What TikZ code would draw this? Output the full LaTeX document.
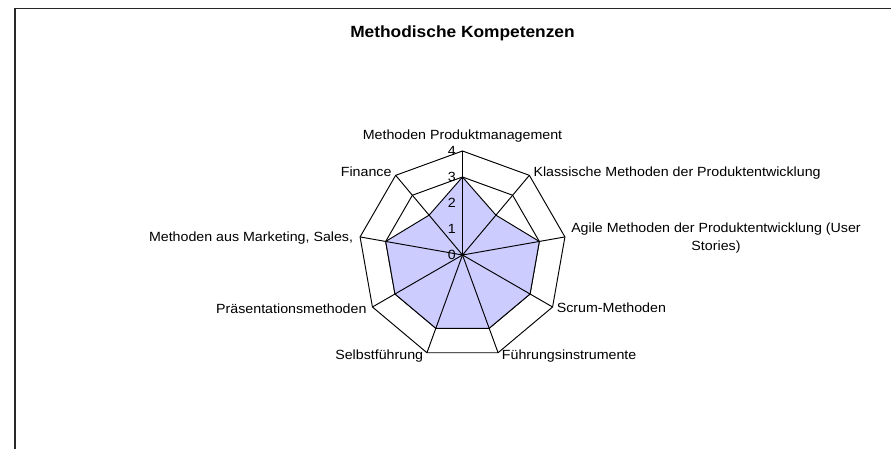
\documentclass[tikz,border=0pt]{standalone}
\usepackage{fontspec}
\setmainfont{Liberation Sans}[FakeStretch=1.07]
\definecolor{serfill}{RGB}{204,204,255}
\definecolor{framec}{RGB}{40,40,40}
\begin{document}
\begin{tikzpicture}[x=1pt,y=1pt,
  gridline/.style={line width=0.95pt, black},
  axisline/.style={line width=0.95pt, black},
  series/.style={line width=0.95pt, black, fill=serfill},
  lbl/.style={inner sep=0pt, font=\fontsize{13.3}{18}\selectfont},
  tick/.style={inner sep=0pt, anchor=east, font=\fontsize{13.3}{15}\selectfont},
  titlestyle/.style={inner sep=0pt, anchor=base, font=\bfseries\fontsize{16.2}{19}\selectfont}]
\useasboundingbox (0,0) rectangle (891,449);
% frame
\draw[line width=1.6pt, framec] (15,0) -- (15,440.5) -- (891,440.5);
\node[titlestyle] (title) at (462.5,411) {Methodische Kompetenzen};
\begin{scope}[shift={(462.5,194)}]
  \coordinate (O) at (0,0);
  \foreach \i in {0,...,8} {
    \coordinate (v\i) at ({90-40*\i}:104);
  }
  % rings
  \foreach \k in {1,...,4} {
    \draw[gridline] (90:{26*\k}) \foreach \a in {50,10,-30,-70,-110,-150,-190,-230} { -- (\a:{26*\k}) } -- cycle;
  }
  % series values
  \foreach \i/\v in {0/3,1/2,2/3,3/3,4/3,5/3,6/3,7/3,8/2} {
    \coordinate (p\i) at ({90-40*\i}:{26*\v});
  }
  \draw[series] (p0) -- (p1) -- (p2) -- (p3) -- (p4) -- (p5) -- (p6) -- (p7) -- (p8) -- cycle;
  % axes
  \foreach \i in {0,...,8} {
    \draw[axisline] (O) -- (v\i);
  }
  % tick labels
  \foreach \k in {0,...,4} {
    \node[tick] (t\k) at (-6.5,{26*\k}) {\k};
  }
\end{scope}
% category labels
\node[lbl, anchor=base] (l0) at (462.5,309) {Methoden Produktmanagement};
\node[lbl, anchor=base west] (l1) at (533.3,272) {Klassische Methoden der Produktentwicklung};
\node[lbl, anchor=north, align=center] (l2) at (716,226) {Agile Methoden der Produktentwicklung (User\\Stories)};
\node[lbl, anchor=base west] (l3) at (556.6,136) {Scrum-Methoden};
\node[lbl, anchor=base west] (l4) at (501.7,89.7) {Führungsinstrumente};
\node[lbl, anchor=base east] (l5) at (423.3,89.7) {Selbstführung};
\node[lbl, anchor=base east] (l6) at (366.7,135.7) {Präsentationsmethoden};
\node[lbl, anchor=base east] (l7) at (353.3,207.5) {Methoden aus Marketing, Sales,};
\node[lbl, anchor=base east] (l8) at (391.7,272.5) {Finance};
\end{tikzpicture}
\end{document}
